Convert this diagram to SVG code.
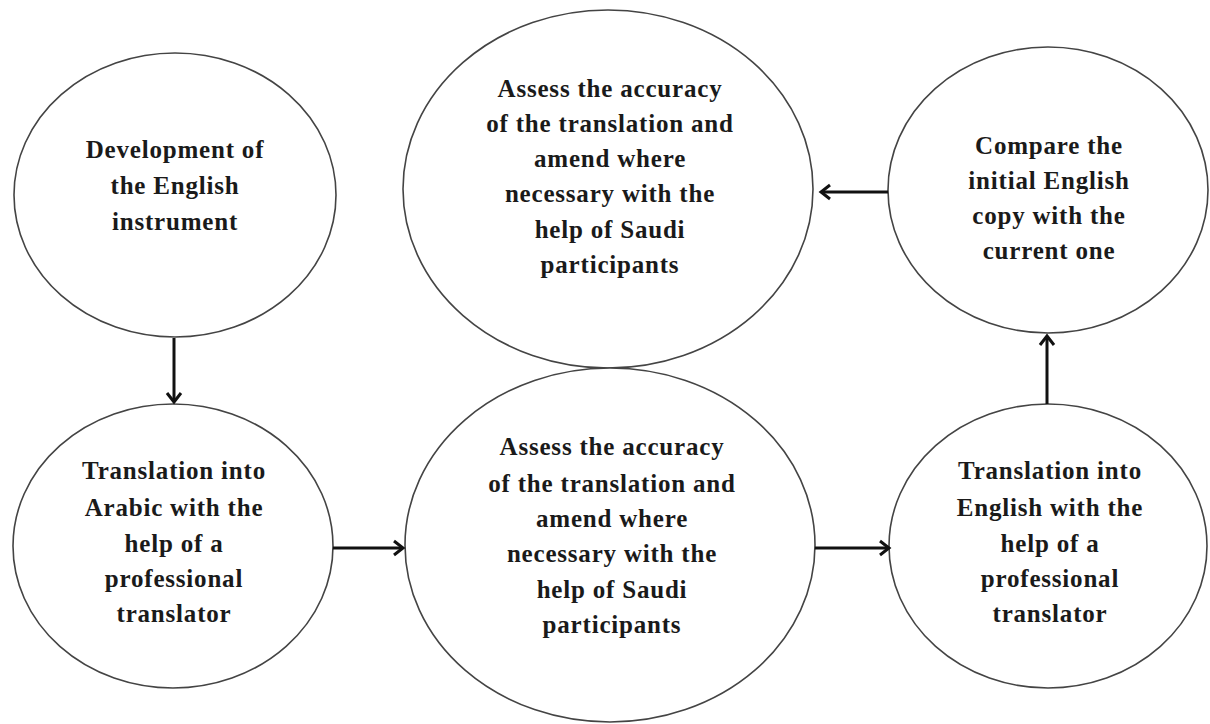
<svg xmlns="http://www.w3.org/2000/svg" width="1210" height="724" viewBox="0 0 1210 724">
<style>
.node ellipse{fill:#fff;stroke:#444;stroke-width:1.6}
.node text{font-family:"Liberation Serif","Times New Roman",serif;font-weight:bold;font-size:25px;letter-spacing:0.8px;fill:#1a1a1a;text-anchor:middle}
.conn line{stroke:#111;stroke-width:3}
</style>
<defs>
<marker id="arr" markerUnits="userSpaceOnUse" markerWidth="16" markerHeight="18" refX="11" refY="8" orient="auto" viewBox="0 0 16 16">
<path d="M2,1 L11,8 L2,15" fill="none" stroke="#111" stroke-width="3" stroke-linejoin="miter"/>
</marker>
</defs>
<rect width="1210" height="724" fill="#fff"/>
<g id="n1" class="node">
<ellipse cx="175" cy="195" rx="161" ry="142"/>
<text x="175" y="158">Development of</text>
<text x="175" y="194">the English</text>
<text x="175" y="230">instrument</text>
</g>
<g id="n2" class="node">
<ellipse cx="608" cy="189" rx="205" ry="179"/>
<text x="610" y="97">Assess the accuracy</text>
<text x="610" y="132">of the translation and</text>
<text x="610" y="167">amend where</text>
<text x="610" y="202">necessary with the</text>
<text x="610" y="238">help of Saudi</text>
<text x="610" y="273">participants</text>
</g>
<g id="n3" class="node">
<ellipse cx="1048" cy="190" rx="160" ry="143"/>
<text x="1049" y="154">Compare the</text>
<text x="1049" y="189">initial English</text>
<text x="1049" y="224">copy with the</text>
<text x="1049" y="259">current one</text>
</g>
<g id="n4" class="node">
<ellipse cx="173" cy="546" rx="160" ry="142"/>
<text x="174" y="479">Translation into</text>
<text x="174" y="516">Arabic with the</text>
<text x="174" y="552">help of a</text>
<text x="174" y="587">professional</text>
<text x="174" y="622">translator</text>
</g>
<g id="n5" class="node">
<ellipse cx="610" cy="545" rx="205" ry="177"/>
<text x="612" y="455">Assess the accuracy</text>
<text x="612" y="492">of the translation and</text>
<text x="612" y="527">amend where</text>
<text x="612" y="562">necessary with the</text>
<text x="612" y="598">help of Saudi</text>
<text x="612" y="633">participants</text>
</g>
<g id="n6" class="node">
<ellipse cx="1048" cy="546" rx="159" ry="142"/>
<text x="1050" y="479">Translation into</text>
<text x="1050" y="516">English with the</text>
<text x="1050" y="552">help of a</text>
<text x="1050" y="587">professional</text>
<text x="1050" y="622">translator</text>
</g>
<g id="connectors" class="conn">
<line x1="174" y1="338" x2="174" y2="402" marker-end="url(#arr)"/>
<line x1="333" y1="548" x2="403" y2="548" marker-end="url(#arr)"/>
<line x1="815" y1="548" x2="889" y2="548" marker-end="url(#arr)"/>
<line x1="1047" y1="404" x2="1047" y2="336" marker-end="url(#arr)"/>
<line x1="888" y1="192" x2="821" y2="192" marker-end="url(#arr)"/>
</g>
</svg>
